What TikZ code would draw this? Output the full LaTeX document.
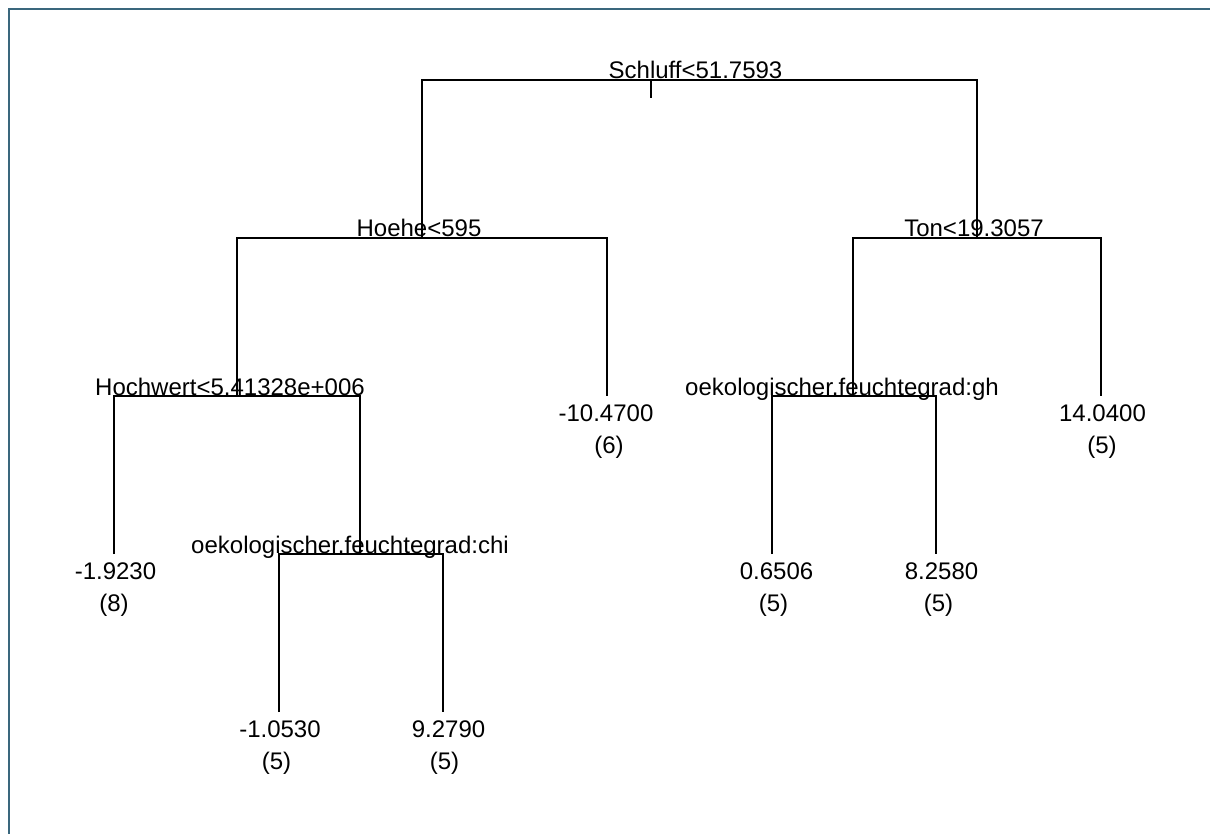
\documentclass[tikz,border=0pt]{standalone}
\usepackage{fontspec}
\setmainfont{Liberation Sans}
\usepackage{tikz}
\usetikzlibrary{positioning}
\definecolor{framecol}{RGB}{58,103,125}

\begin{document}
\begin{tikzpicture}[x=1pt,y=-1pt,
	branch/.style={black, line width=1.3pt},
	split/.style={anchor=base, inner sep=0pt, yshift=1pt, font=\fontsize{24}{28}\selectfont},
	value/.style={anchor=base, inner sep=0pt, yshift=-25.5pt, font=\fontsize{24}{28}\selectfont},
	count/.style={anchor=base, inner sep=0pt, yshift=-57pt, font=\fontsize{24}{28}\selectfont}]
	\useasboundingbox (0,0) rectangle (1210,834);
	\draw [framecol, line width=2pt] (9,834) -- (9,9) -- (1210,9);
	
	\coordinate (schluff) at (651,80);
	\coordinate (roottick) at (651,98);
	\coordinate (hoehe) at (422,238);
	\coordinate (ton) at (977,238);
	\coordinate (hochwert) at (237,396);
	\coordinate (leafhoehe) at (607,396);
	\coordinate (gh) at (853,396);
	\coordinate (leafton) at (1101,396);
	\coordinate (leafhochwert) at (114,554);
	\coordinate (chi) at (360,554);
	\coordinate (leafghA) at (772,554);
	\coordinate (leafghB) at (936,554);
	\coordinate (leafchiA) at (279,712);
	\coordinate (leafchiB) at (443,712);
	
	\draw [branch] (schluff) -- (roottick);
	\draw [branch] (hoehe) |- (schluff) -| (ton);
	\draw [branch] (hochwert) |- (hoehe) -| (leafhoehe);
	\draw [branch] (gh) |- (ton) -| (leafton);
	\draw [branch] (leafhochwert) |- (hochwert) -| (chi);
	\draw [branch] (leafghA) |- (gh) -| (leafghB);
	\draw [branch] (leafchiA) |- (chi) -| (leafchiB);
	
	% split labels
	\node [split, xshift=44.5pt] (lblschluff) at (schluff) {Schluff<51.7593};
	\node [split, xshift=-3pt] (lblhoehe) at (hoehe) {Hoehe<595};
	\node [split, xshift=-3pt] (lblton) at (ton) {Ton<19.3057};
	\node [split, xshift=-7pt] (lblhochwert) at (hochwert) {Hochwert<5.41328e+006};
	\node [split, xshift=-11pt] (lblgh) at (gh) {oekologischer.feuchtegrad:gh};
	\node [split, xshift=-10pt] (lblchi) at (chi) {oekologischer.feuchtegrad:chi};
	
	% leaves
	\node [value, xshift=-1pt] (valhoehe) at (leafhoehe) {-10.4700};
	\node [count, xshift=2pt] (nhoehe) at (leafhoehe) {(6)};
	\node [value, xshift=1.5pt] (valton) at (leafton) {14.0400};
	\node [count, xshift=1pt] (nton) at (leafton) {(5)};
	\node [value, xshift=1.5pt] (valhochwert) at (leafhochwert) {-1.9230};
	\node [count] (nhochwert) at (leafhochwert) {(8)};
	\node [value, xshift=4.5pt] (valghA) at (leafghA) {0.6506};
	\node [count, xshift=1.5pt] (nghA) at (leafghA) {(5)};
	\node [value, xshift=5.5pt] (valghB) at (leafghB) {8.2580};
	\node [count, xshift=2.5pt] (nghB) at (leafghB) {(5)};
	\node [value, xshift=1pt] (valchiA) at (leafchiA) {-1.0530};
	\node [count, xshift=-2.5pt] (nchiA) at (leafchiA) {(5)};
	\node [value, xshift=5.5pt] (valchiB) at (leafchiB) {9.2790};
	\node [count, xshift=1.5pt] (nchiB) at (leafchiB) {(5)};
\end{tikzpicture}
\end{document}
